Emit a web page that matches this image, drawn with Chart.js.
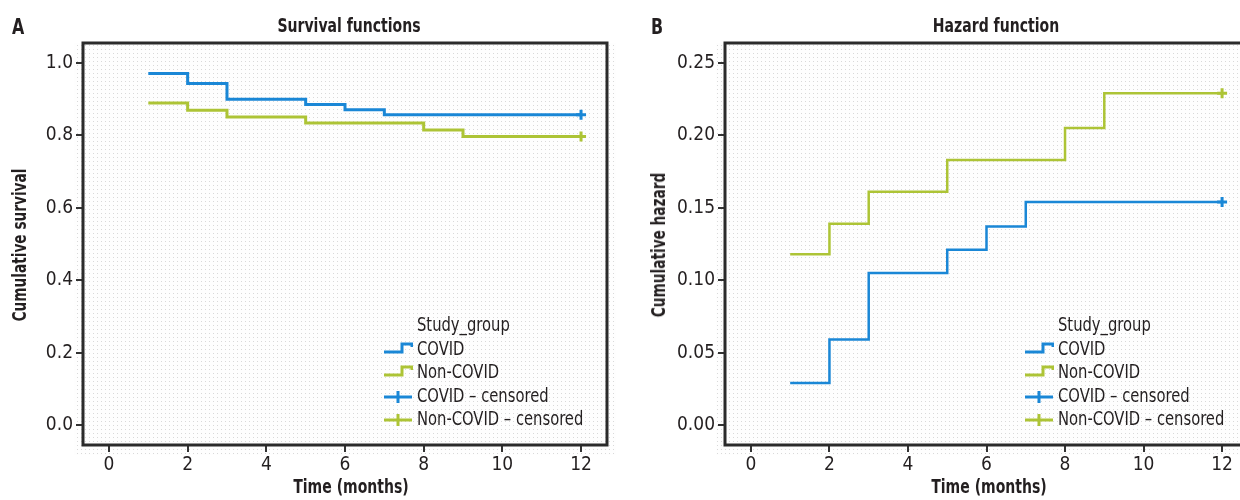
<!DOCTYPE html>
<html><head><meta charset="utf-8">
<script src="https://cdn.jsdelivr.net/npm/chart.js@4"></script>
<style>
html,body{margin:0;padding:0;background:#fff;overflow:hidden}
#wrap{position:relative;width:1240px;height:500px;overflow:hidden;font-family:'Liberation Sans Narrow','Arial Narrow','DejaVu Sans Condensed',sans-serif;color:#231f20}
.t{position:absolute;white-space:nowrap}
.b{font-weight:bold}
.l{transform-origin:0 50%;transform:scaleX(0.8)}
.c{transform:translateX(-50%) scaleX(0.78)}
.r{transform:translate(-50%,-50%) rotate(-90deg) scaleX(0.76)}
.g{transform-origin:0 50%;transform:scaleX(0.82)}
</style></head><body>
<div id="wrap">
<canvas id="cA" width="620" height="500" style="position:absolute;left:0;top:0"></canvas>
<canvas id="cB" width="640" height="500" style="position:absolute;left:620px;top:0"></canvas>
<div class="t b l" style="left:12px;top:16px;font-size:22px;line-height:22px">A</div>
<div class="t b l" style="left:651px;top:16px;font-size:22px;line-height:22px">B</div>
<div class="t b c" style="left:349px;top:15px;font-size:20px;line-height:20px">Survival functions</div>
<div class="t b c" style="left:996px;top:15px;font-size:20px;line-height:20px">Hazard function</div>
<div class="t b c" style="left:351px;top:476px;font-size:20px;line-height:20px">Time (months)</div>
<div class="t b c" style="left:989px;top:476px;font-size:20px;line-height:20px">Time (months)</div>
<div class="t b r" style="left:19px;top:245px;font-size:20px;line-height:20px">Cumulative survival</div>
<div class="t b r" style="left:658px;top:245px;font-size:20px;line-height:20px">Cumulative hazard</div>
</div>
<script>
// ---- data ----
const timeTicks = [0, 2, 4, 6, 8, 10, 12];
const survivalTicks = [0, 0.2, 0.4, 0.6, 0.8, 1.0];
const hazardTicks = [0, 0.05, 0.10, 0.15, 0.20, 0.25];
const covidTimes = [1, 2, 3, 5, 6, 7, 12];
const nonCovidTimes = [1, 2, 3, 5, 8, 9, 12];
const covidSurvival = [0.971, 0.943, 0.900, 0.885, 0.871, 0.857, 0.857];
const nonCovidSurvival = [0.889, 0.869, 0.851, 0.834, 0.815, 0.797, 0.797];
const covidHazard = [0.029, 0.059, 0.105, 0.121, 0.137, 0.154, 0.154];
const nonCovidHazard = [0.118, 0.139, 0.161, 0.183, 0.205, 0.229, 0.229];
const censorTime = 12;
const legendTitle = 'Study_group';
const legendLabels = ['COVID', 'Non-COVID', 'COVID \u2013 censored', 'Non-COVID \u2013 censored'];

const BLUE = '#1a87d6', GREEN = '#adc436', INK = '#231f20';
const FONT = "'Liberation Sans Narrow','Arial Narrow','DejaVu Sans Condensed',sans-serif";
Chart.defaults.font.family = FONT;
Chart.defaults.color = INK;

function pts(xs, ys) { return xs.map((x, i) => ({x: x, y: ys[i]})); }
function censorPt(xs, ys) { return [{x: censorTime, y: ys[xs.indexOf(censorTime)]}]; }

function makePattern(ctx) {
  const c = document.createElement('canvas'); c.width = 4; c.height = 4;
  const g = c.getContext('2d');
  g.fillStyle = '#fefefe'; g.fillRect(0, 0, 4, 4);
  g.fillStyle = '#d9d9d9'; g.fillRect(1, 1, 1, 1);
  return ctx.createPattern(c, 'repeat');
}
const framePlugin = {
  id: 'frame',
  beforeDraw(chart) {
    const {ctx, chartArea: a} = chart;
    ctx.save(); ctx.fillStyle = makePattern(ctx);
    ctx.fillRect(a.left - 9, a.top, a.right - a.left + 18, a.bottom - a.top + 10);
    ctx.restore();
  },
  beforeDatasetsDraw(chart) {
    const {ctx, chartArea: a} = chart;
    ctx.save(); ctx.strokeStyle = '#2b2b2b'; ctx.lineWidth = 3;
    ctx.strokeRect(a.left, a.top, a.right - a.left, a.bottom - a.top);
    ctx.restore();
  }
};

function makeChart(id, ys1, ys2, yTicks, yMin, yMax, yWidth, padRight, lw, dec) {
  const tickGrid = {drawOnChartArea: false, drawTicks: true, tickLength: 7, color: '#333', lineWidth: 2};
  return new Chart(document.getElementById(id), {
    type: 'line',
    data: {datasets: [
      {data: pts(covidTimes, ys1), stepped: true, borderColor: BLUE, borderWidth: lw, pointRadius: 0, fill: false},
      {data: pts(nonCovidTimes, ys2), stepped: true, borderColor: GREEN, borderWidth: lw, pointRadius: 0, fill: false},
      {data: censorPt(covidTimes, ys1), showLine: false, pointStyle: 'cross', pointRadius: 5, borderColor: BLUE, borderWidth: 3},
      {data: censorPt(nonCovidTimes, ys2), showLine: false, pointStyle: 'cross', pointRadius: 5, borderColor: GREEN, borderWidth: 3}
    ]},
    options: {
      responsive: false, animation: false,
      layout: {padding: {top: 43, right: padRight, left: 0, bottom: 0}},
      plugins: {legend: {display: false}, tooltip: {enabled: false}},
      scales: {
        x: {type: 'linear', min: -0.66, max: 12.66,
            afterBuildTicks: s => { s.ticks = timeTicks.map(v => ({value: v})); },
            afterFit: s => { s.height = 55; },
            grid: tickGrid, border: {display: false},
            ticks: {font: {size: 19}, padding: 2, color: INK, callback: v => String(v)}},
        y: {type: 'linear', min: yMin, max: yMax,
            afterBuildTicks: s => { s.ticks = yTicks.map(v => ({value: v})); },
            afterFit: s => { s.width = yWidth; },
            grid: tickGrid, border: {display: false},
            ticks: {font: {size: 19}, padding: 3, color: INK, callback: v => Number(v).toFixed(dec)}}
      }
    },
    plugins: [framePlugin]
  });
}

makeChart('cA', covidSurvival, nonCovidSurvival, survivalTicks, -0.055, 1.055, 83, 13, 3, 1);
makeChart('cB', covidHazard, nonCovidHazard, hazardTicks, -0.01375, 0.26375, 105, 12, 2.5, 2);

// ---- legends (HTML text) ----
function legend(iconLeft) {
  const wrap = document.getElementById('wrap');
  const colors = [BLUE, GREEN, BLUE, GREEN];
  const rows = [legendTitle].concat(legendLabels);
  rows.forEach((txt, i) => {
    const top = 314 + i * 23.6;
    const d = document.createElement('div');
    d.className = 't g';
    d.style.cssText = 'left:' + (iconLeft + 34) + 'px;top:' + top + 'px;font-size:20px;line-height:20px';
    d.textContent = txt;
    wrap.appendChild(d);
    if (i > 0) {
      const col = colors[i - 1];
      const base = top + 17;
      const svgNS = 'http://www.w3.org/2000/svg';
      const svg = document.createElementNS(svgNS, 'svg');
      svg.setAttribute('width', '30'); svg.setAttribute('height', '16');
      svg.style.cssText = 'position:absolute;left:' + iconLeft + 'px;top:' + (base - 14) + 'px';
      if (i <= 2) {
        const p = document.createElementNS(svgNS, 'polyline');
        p.setAttribute('points', '1,11 19,11 19,3 29,3 29,6');
        p.setAttribute('fill', 'none'); p.setAttribute('stroke', col); p.setAttribute('stroke-width', '3');
        svg.appendChild(p);
      } else {
        const p = document.createElementNS(svgNS, 'path');
        p.setAttribute('d', 'M1,9 H29 M15,3 V15');
        p.setAttribute('fill', 'none'); p.setAttribute('stroke', col); p.setAttribute('stroke-width', '3');
        svg.appendChild(p);
      }
      wrap.appendChild(svg);
    }
  });
}
legend(383);
legend(1024);
</script>
</body></html>
